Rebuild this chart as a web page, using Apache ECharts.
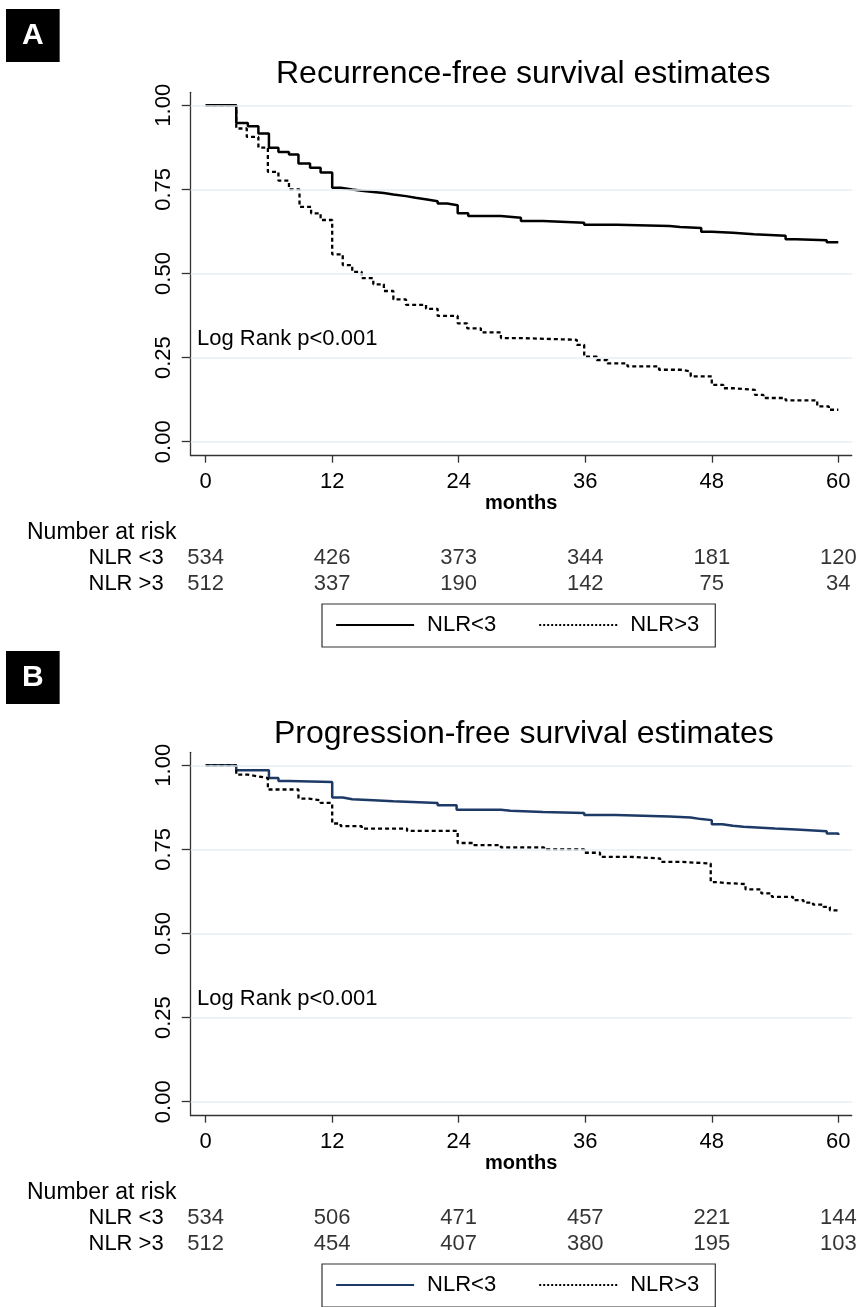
<!DOCTYPE html>
<html>
<head>
<meta charset="utf-8">
<script src="https://cdn.jsdelivr.net/npm/echarts@6/dist/echarts.min.js"></script>
<style>
  html, body { margin: 0; padding: 0; background: #fff; }
  #chart { width: 859px; height: 1307px; }
</style>
</head>
<body>
<div id="chart"></div>
<script>
// ---- data ----
const monthTicks = [0, 12, 24, 36, 48, 60];
const survTicks = [0, 0.25, 0.5, 0.75, 1];

// A: recurrence-free survival
const rfsLowT = [0, 2.9, 4.0, 5.0, 6.0, 6.9, 7.9, 8.8, 9.9, 10.9, 12.0, 12.8, 13.9, 14.8, 15.9, 16.9, 17.8, 19.0, 19.9, 21.0, 22.0, 22.9, 23.9, 24.9, 28.0, 29.9, 32.0, 35.9, 39.0, 44.0, 45.0, 47.0, 48.0, 50.0, 52.0, 55.0, 56.0, 58.9, 60];
const rfsLowS = [1.0, 0.947, 0.938, 0.916, 0.874, 0.861, 0.854, 0.827, 0.814, 0.80, 0.755, 0.75, 0.746, 0.742, 0.739, 0.735, 0.730, 0.725, 0.72, 0.715, 0.708, 0.703, 0.679, 0.671, 0.666, 0.656, 0.651, 0.645, 0.641, 0.638, 0.635, 0.624, 0.621, 0.617, 0.612, 0.602, 0.599, 0.593, 0.591];
const rfsHighT = [0, 2.9, 3.9, 5.0, 5.9, 6.9, 7.9, 8.9, 10.0, 10.9, 12.0, 13.0, 13.9, 14.8, 15.9, 16.9, 17.8, 19.0, 20.9, 22.0, 23.9, 24.8, 26.1, 28.0, 29.9, 35.2, 35.9, 37.1, 38.1, 40.0, 43.0, 45.0, 46.0, 48.0, 49.1, 50.0, 52.1, 52.9, 55.0, 58.0, 59.1, 60];
const rfsHighS = [1.0, 0.931, 0.906, 0.874, 0.802, 0.776, 0.75, 0.698, 0.679, 0.659, 0.557, 0.525, 0.505, 0.486, 0.468, 0.448, 0.423, 0.407, 0.395, 0.374, 0.352, 0.337, 0.325, 0.308, 0.303, 0.288, 0.253, 0.243, 0.233, 0.224, 0.214, 0.209, 0.194, 0.169, 0.159, 0.154, 0.139, 0.13, 0.123, 0.105, 0.095, 0.093];
const rfsRiskLow = [534, 426, 373, 344, 181, 120];
const rfsRiskHigh = [512, 337, 190, 142, 75, 34];

// B: progression-free survival
const pfsLowT = [0, 2.9, 6.0, 6.9, 7.9, 12.0, 13.0, 13.9, 15.9, 17.8, 22.0, 23.8, 28.0, 28.9, 32.0, 35.9, 38.9, 44.0, 46.0, 47.0, 48.0, 49.0, 50.0, 51.0, 54.0, 56.0, 58.9, 60];
const pfsLowS = [1.0, 0.985, 0.962, 0.953, 0.95, 0.904, 0.899, 0.896, 0.893, 0.888, 0.881, 0.868, 0.865, 0.861, 0.858, 0.852, 0.848, 0.845, 0.84, 0.837, 0.825, 0.82, 0.817, 0.812, 0.809, 0.804, 0.797, 0.793];
const pfsHighT = [0, 2.9, 4.0, 5.0, 5.9, 8.8, 9.8, 10.9, 12.0, 12.8, 14.8, 19.1, 23.9, 25.4, 28.0, 32.1, 35.9, 37.4, 40.3, 43.1, 45.0, 47.9, 48.6, 49.3, 51.2, 52.7, 53.7, 55.7, 56.7, 57.6, 58.6, 59.2, 60];
const pfsHighS = [1.0, 0.972, 0.967, 0.962, 0.928, 0.901, 0.896, 0.888, 0.827, 0.819, 0.812, 0.805, 0.769, 0.763, 0.756, 0.75, 0.74, 0.728, 0.723, 0.713, 0.708, 0.653, 0.65, 0.647, 0.631, 0.619, 0.609, 0.599, 0.592, 0.586, 0.579, 0.569, 0.569];
const pfsRiskLow = [534, 506, 471, 457, 221, 144];
const pfsRiskHigh = [512, 454, 407, 380, 195, 103];

const groups = ["NLR <3", "NLR >3"];

// ---- styling ----
const FONT = "'Liberation Sans', Arial, sans-serif";
const AXIS_COL = "#333";
const GRID_COL = "#e6eef2";
const NAVY = "#1d3a66";
const X_MIN = -1.42, X_MAX = 61.27;
const Y_MIN = -0.0415, Y_MAX = 1.0386;
const PANEL_DY = 660;

const zip = (t, s) => t.map((v, i) => [v, s[i]]);

function mainAxes(gi) {
  const x = {
    type: "value", gridIndex: gi, min: X_MIN, max: X_MAX,
    name: "months", nameLocation: "middle", nameGap: 36,
    nameTextStyle: { fontFamily: FONT, fontSize: 20, fontWeight: "bold", color: "#000" },
    axisLine: { onZero: false, lineStyle: { color: AXIS_COL, width: 1.3 } },
    axisTick: { length: 7, lineStyle: { color: AXIS_COL, width: 1.3 }, customValues: monthTicks },
    axisLabel: { customValues: monthTicks, margin: 15, fontFamily: FONT, fontSize: 22, color: "#000" },
    splitLine: { show: false }
  };
  const y = {
    type: "value", gridIndex: gi, min: Y_MIN, max: Y_MAX,
    axisLine: { show: true, onZero: false, lineStyle: { color: AXIS_COL, width: 1.3 } },
    axisTick: { show: true, length: 9, lineStyle: { color: AXIS_COL, width: 1.3 }, customValues: survTicks },
    axisLabel: {
      customValues: survTicks, rotate: 90, margin: 16,
      fontFamily: FONT, fontSize: 22, color: "#000",
      formatter: v => v.toFixed(2)
    },
    splitLine: { show: false }
  };
  return [x, y];
}

function riskAxes(gi) {
  const x = { type: "value", gridIndex: gi, min: X_MIN, max: X_MAX, show: false };
  const y = {
    type: "category", gridIndex: gi, data: groups, inverse: true,
    axisLine: { show: false }, axisTick: { show: false },
    axisLabel: { interval: 0, margin: 27, fontFamily: FONT, fontSize: 22, color: "#000" }
  };
  return [x, y];
}

function kmSeries(name, t, s, gi, color, dashed) {
  return {
    name, type: "line", xAxisIndex: gi, yAxisIndex: gi,
    data: zip(t, s), step: "end", symbol: "none", z: 3,
    lineStyle: { color, width: dashed ? 2.3 : 2.5, type: dashed ? [4, 3] : "solid" },
    itemStyle: { color }
  };
}

function gridLines(gi) {
  return {
    name: "grid" + gi, type: "line", xAxisIndex: gi, yAxisIndex: gi, data: [], z: 1,
    silent: true,
    markLine: {
      silent: true, symbol: "none", label: { show: false },
      lineStyle: { color: GRID_COL, width: 1.5, type: "solid" },
      data: survTicks.map(v => ({ yAxis: v }))
    }
  };
}

// number-at-risk row: invisible points carrying the count as label
function riskSeries(counts, row, gi) {
  return {
    type: "scatter", xAxisIndex: gi, yAxisIndex: gi, symbolSize: 1,
    itemStyle: { color: "#fff" }, silent: true,
    data: counts.map((n, i) => [monthTicks[i], row, n]),
    label: {
      show: true, position: "inside", formatter: p => String(p.value[2]),
      fontFamily: FONT, fontSize: 22, color: "#000", textBorderWidth: 0
    }
  };
}

function legendFor(top, lowColor) {
  return {
    left: 322, top,
    orient: "horizontal",
    borderColor: "#333", borderWidth: 1.2,
    padding: [10, 16, 11, 13],
    itemWidth: 78, itemHeight: 14, itemGap: 42,
    textStyle: { fontFamily: FONT, fontSize: 22, color: "#000", padding: [0, 0, 0, 8] },
    data: [
      { name: "NLR<3", itemStyle: { opacity: 0 }, lineStyle: { color: lowColor, width: 2.2, type: "solid" } },
      { name: "NLR>3", itemStyle: { opacity: 0 }, lineStyle: { color: "#000", width: 2, type: [2, 2] } }
    ]
  };
}

function textTitle(text, left, top, style) {
  return { text, left, top, padding: 0, textStyle: Object.assign({ fontFamily: FONT, fontWeight: "normal", color: "#000" }, style) };
}

function letterBox(text, top) {
  return {
    text, left: 6, top, padding: [12, 16, 11, 16], backgroundColor: "#000",
    textStyle: { fontFamily: FONT, fontSize: 30, fontWeight: "bold", color: "#fff", lineHeight: 30 }
  };
}

const gridBase = { left: 190.7, width: 661 };
const axA = mainAxes(0), rkA = riskAxes(1), axB = mainAxes(2), rkB = riskAxes(3);

const option = {
  animation: false,
  backgroundColor: "#fff",
  title: [
    letterBox("A", 9),
    letterBox("B", 651),
    textTitle("Recurrence-free survival estimates", 276, 58, { fontSize: 32 }),
    textTitle("Progression-free survival estimates", 274, 58 + PANEL_DY, { fontSize: 32 }),
    textTitle("Log Rank p<0.001", 197, 328, { fontSize: 22 }),
    textTitle("Log Rank p<0.001", 197, 328 + PANEL_DY, { fontSize: 22 }),
    textTitle("Number at risk", 27, 521, { fontSize: 23 }),
    textTitle("Number at risk", 27, 521 + PANEL_DY, { fontSize: 23 })
  ],
  legend: [legendFor(604, "#000"), legendFor(604 + PANEL_DY, NAVY)],
  grid: [
    Object.assign({ top: 92.3, height: 363.4 }, gridBase),
    Object.assign({ top: 545, height: 52 }, gridBase),
    Object.assign({ top: 92.3 + PANEL_DY, height: 363.4 }, gridBase),
    Object.assign({ top: 545 + PANEL_DY, height: 52 }, gridBase)
  ],
  xAxis: [axA[0], rkA[0], axB[0], rkB[0]],
  yAxis: [axA[1], rkA[1], axB[1], rkB[1]],
  series: [
    gridLines(0),
    kmSeries("NLR<3", rfsLowT, rfsLowS, 0, "#000", false),
    kmSeries("NLR>3", rfsHighT, rfsHighS, 0, "#000", true),
    riskSeries(rfsRiskLow, 0, 1),
    riskSeries(rfsRiskHigh, 1, 1),
    gridLines(2),
    kmSeries("NLR<3", pfsLowT, pfsLowS, 2, NAVY, false),
    kmSeries("NLR>3", pfsHighT, pfsHighS, 2, "#000", true),
    riskSeries(pfsRiskLow, 0, 3),
    riskSeries(pfsRiskHigh, 1, 3)
  ]
};

const chart = echarts.init(document.getElementById("chart"), null, { renderer: "canvas" });
chart.setOption(option);
</script>
</body>
</html>
